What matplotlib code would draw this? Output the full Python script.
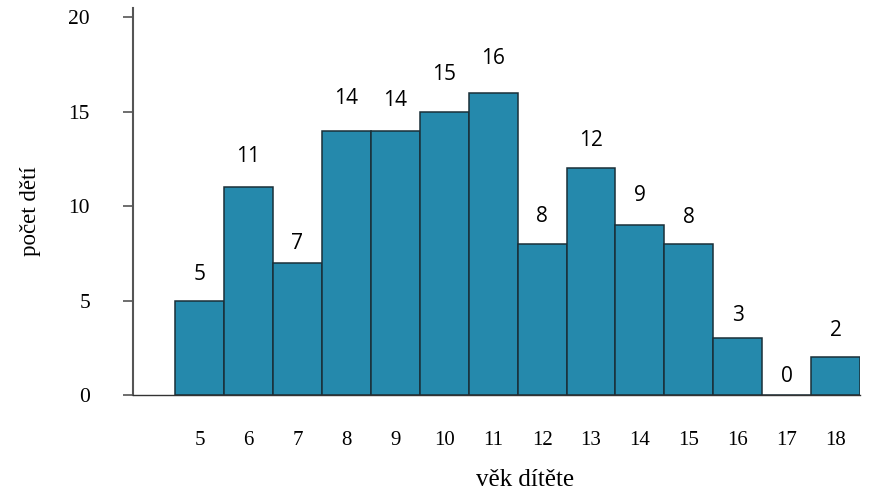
import numpy as np
import matplotlib.pyplot as plt

plt.rcParams['font.family'] = ['Liberation Serif', 'DejaVu Serif']

# vek deti a pocty
vek = [5, 6, 7, 8, 9, 10, 11, 12, 13, 14, 15, 16, 17, 18]
pocet = [5, 11, 7, 14, 14, 15, 16, 8, 12, 9, 8, 3, 0, 2]
yticks = [0, 5, 10, 15, 20]

# vzdalenost popisku nad sloupcem (v pixelech)
popisek_dy = [26, 31, 19, 32, 30, 37, 34, 27, 28, 29, 26, 23, 18, 27]

fig = plt.figure(figsize=(8.75, 4.9), dpi=100)
ax = fig.add_axes([0.152, 0.194, 0.831, 0.790])

x = np.arange(len(vek))
ax.bar(x, pocet, width=1.0, color='#2589ac', edgecolor='#1a2f38', linewidth=1.1)

# popisky hodnot nad sloupci
for xi, v, dy in zip(x, pocet, popisek_dy):
    ax.annotate(str(v), (xi, v), xytext=(0, dy * 0.72), textcoords='offset points',
                ha='center', va='center', fontsize=15, family=['Open Sans', 'DejaVu Sans'])

ax.set_xlim(-1.36, 13.5)
ax.set_ylim(0, 20.5)
ax.set_xticks(x)
ax.set_xticklabels([str(v) for v in vek], fontsize=15)
ax.set_yticks(yticks)
ax.set_yticklabels([str(v) for v in yticks], fontsize=15.5)
ax.tick_params(axis='x', length=0, pad=26)
ax.tick_params(axis='y', length=7, width=1.2, color='#555555', pad=24)

for s in ['top', 'right']:
    ax.spines[s].set_visible(False)
ax.spines['left'].set_color('#555555')
ax.spines['left'].set_linewidth(1.5)
ax.spines['bottom'].set_color('#333333')
ax.spines['bottom'].set_linewidth(1.0)

ax.set_xlabel('věk dítěte', fontsize=18, labelpad=14)
ax.xaxis.label.set_x(0.539)
ax.set_ylabel('počet dětí', fontsize=16.5)
ax.yaxis.set_label_coords(-0.127, 0.475)

fig.savefig('out.png', dpi=100)
